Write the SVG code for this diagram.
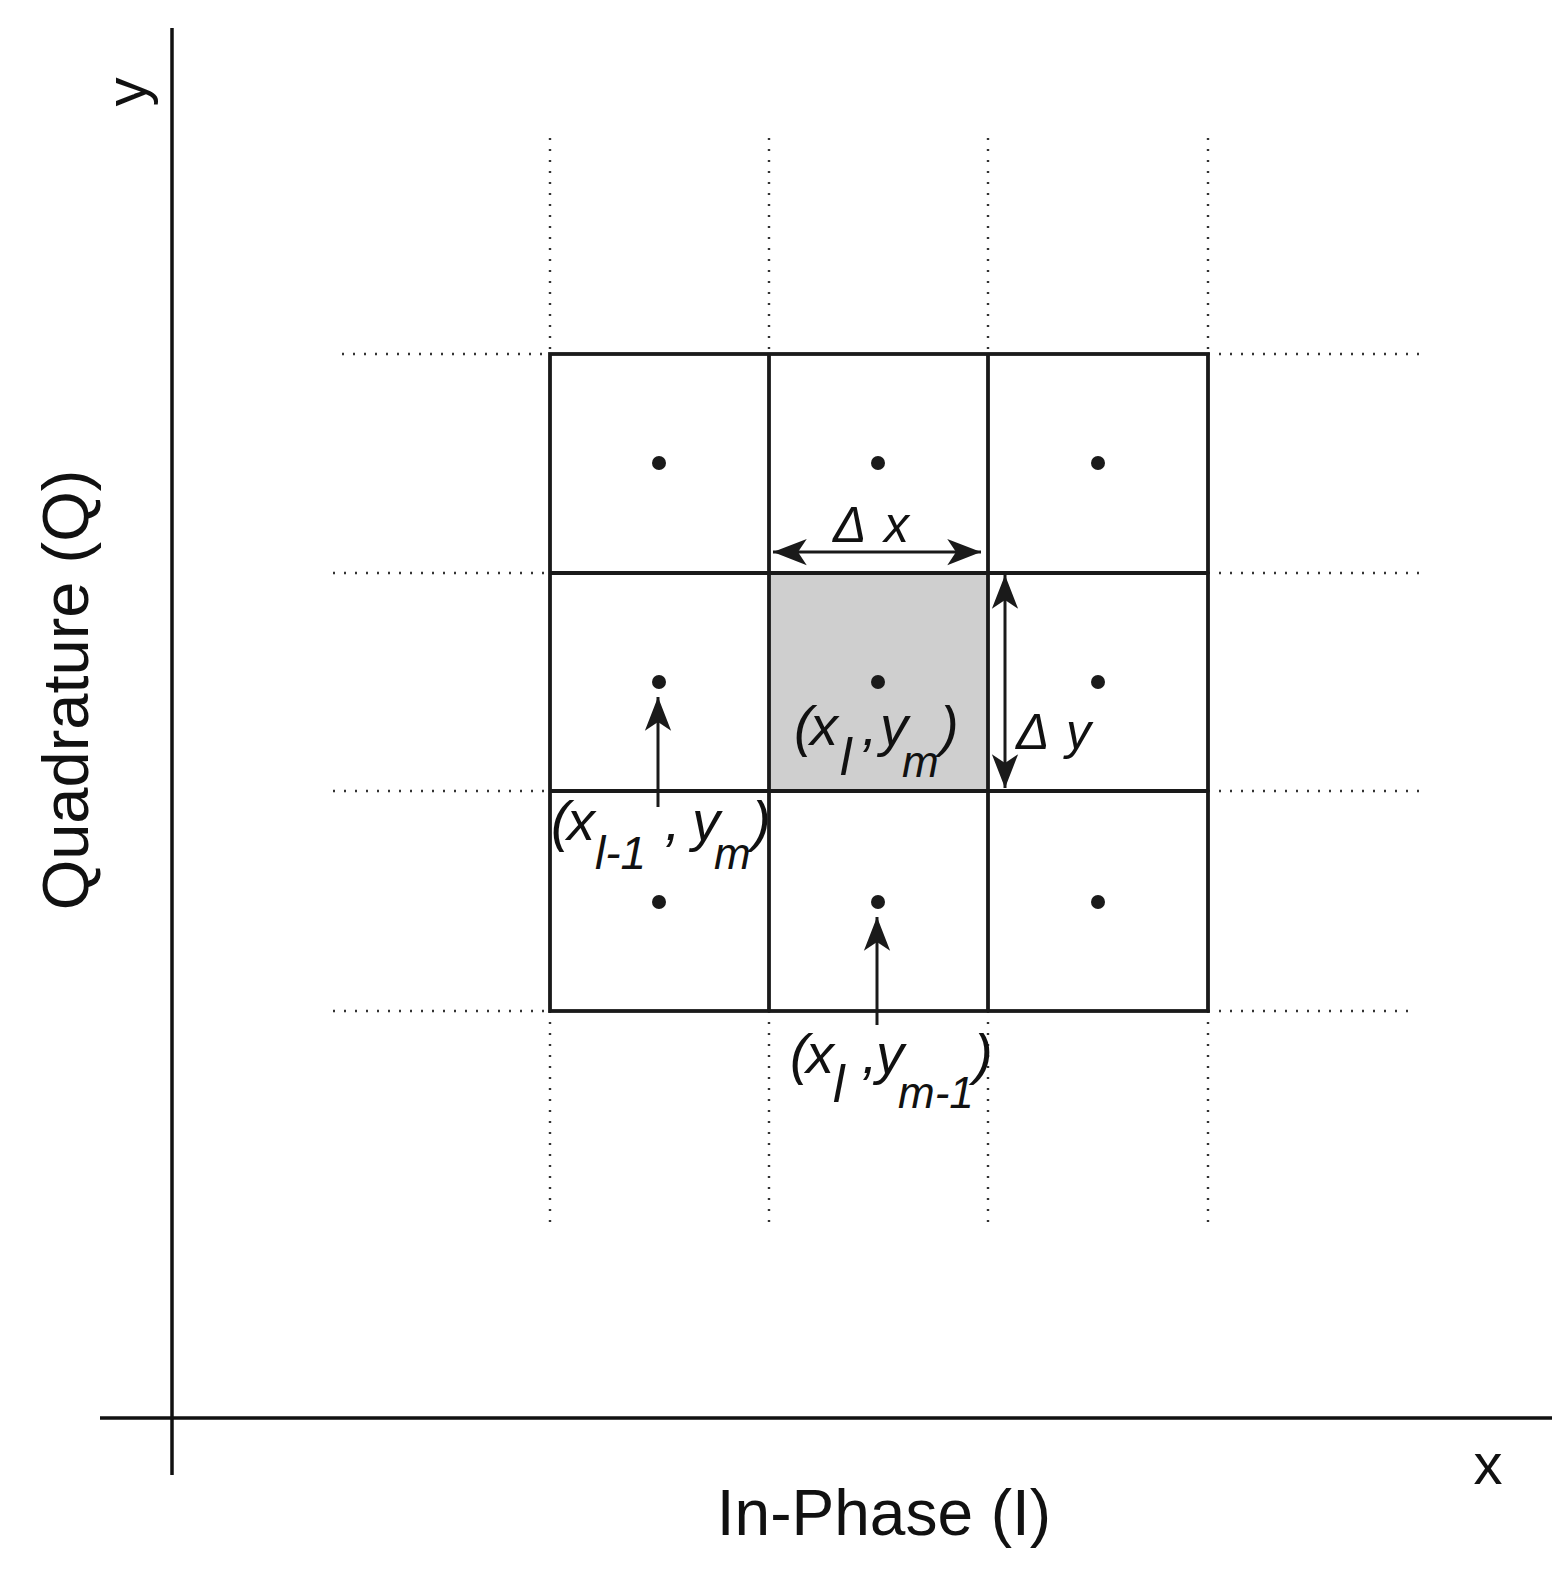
<svg xmlns="http://www.w3.org/2000/svg" width="1564" height="1575" viewBox="0 0 1564 1575">
<style>
.axis{stroke:#111;stroke-width:3.5;fill:none}
.grid{stroke:#1a1a1a;stroke-width:3.8;fill:none}
.dot{stroke:#333;stroke-width:2.4;stroke-dasharray:2 9;fill:none}
.arr{stroke:#1a1a1a;stroke-width:3;fill:none}
.pt{fill:#1a1a1a}
.lab{font-family:"Liberation Sans",Arial,sans-serif;fill:#111}
.m{font-family:"Liberation Sans",Arial,sans-serif;font-style:italic;fill:#111}
</style>
<defs>
<marker id="ah" markerUnits="userSpaceOnUse" markerWidth="40" markerHeight="30" viewBox="-30 -12 32 24" refX="0" refY="0" orient="auto-start-reverse">
<path d="M0,0 L-27,-10.5 L-20,0 L-27,10.5 Z" fill="#1a1a1a"/>
</marker>
</defs>
<rect width="1564" height="1575" fill="#fff"/>
<g id="axes">
<line class="axis" x1="172" y1="28" x2="172" y2="1475"/>
<line class="axis" x1="100" y1="1418" x2="1552" y2="1418"/>
</g>
<g id="dotted">
<line class="dot" x1="550" y1="138" x2="550" y2="354"/>
<line class="dot" x1="769" y1="138" x2="769" y2="354"/>
<line class="dot" x1="988" y1="138" x2="988" y2="354"/>
<line class="dot" x1="1208" y1="138" x2="1208" y2="354"/>
<line class="dot" x1="550" y1="1011" x2="550" y2="1226"/>
<line class="dot" x1="769" y1="1011" x2="769" y2="1226"/>
<line class="dot" x1="988" y1="1011" x2="988" y2="1226"/>
<line class="dot" x1="1208" y1="1011" x2="1208" y2="1226"/>
<line class="dot" x1="342" y1="354" x2="550" y2="354"/>
<line class="dot" x1="333" y1="573" x2="550" y2="573"/>
<line class="dot" x1="333" y1="791" x2="550" y2="791"/>
<line class="dot" x1="333" y1="1011" x2="550" y2="1011"/>
<line class="dot" x1="1208" y1="354" x2="1422" y2="354"/>
<line class="dot" x1="1208" y1="573" x2="1422" y2="573"/>
<line class="dot" x1="1208" y1="791" x2="1422" y2="791"/>
<line class="dot" x1="1208" y1="1011" x2="1416" y2="1011"/>
</g>
<g id="cell-lm">
<rect x="769" y="573" width="219" height="218" fill="#cfcfcf"/>
</g>
<g id="grid">
<rect class="grid" x="550" y="354" width="658" height="657"/>
<line class="grid" x1="769" y1="354" x2="769" y2="1011"/>
<line class="grid" x1="988" y1="354" x2="988" y2="1011"/>
<line class="grid" x1="550" y1="573" x2="1208" y2="573"/>
<line class="grid" x1="550" y1="791" x2="1208" y2="791"/>
</g>
<g id="points">
<circle class="pt" cx="659" cy="463" r="7"/>
<circle class="pt" cx="878" cy="463" r="7"/>
<circle class="pt" cx="1098" cy="463" r="7"/>
<circle class="pt" cx="659" cy="682" r="7"/>
<circle class="pt" cx="878" cy="682" r="7"/>
<circle class="pt" cx="1098" cy="682" r="7"/>
<circle class="pt" cx="659" cy="902" r="7"/>
<circle class="pt" cx="878" cy="902" r="7"/>
<circle class="pt" cx="1098" cy="902" r="7"/>
</g>
<g id="connectors">
<line class="arr" x1="773" y1="552" x2="981" y2="552" marker-start="url(#ah)" marker-end="url(#ah)"/>
<line class="arr" x1="1005" y1="575" x2="1005" y2="788" marker-start="url(#ah)" marker-end="url(#ah)"/>
<line class="arr" x1="658" y1="807" x2="658" y2="697" marker-end="url(#ah)"/>
<line class="arr" x1="877" y1="1025" x2="877" y2="917" marker-end="url(#ah)"/>
</g>
<g id="labels">
<text class="lab" font-size="58" transform="translate(146,92) rotate(-90)" text-anchor="middle">y</text>
<text class="lab" font-size="65" transform="translate(88,690) rotate(-90)" text-anchor="middle">Quadrature (Q)</text>
<text class="lab" font-size="64" x="884" y="1535" text-anchor="middle">In-Phase (I)</text>
<text class="lab" font-size="58" x="1488" y="1484" text-anchor="middle">x</text>
<text class="m" font-size="50"><tspan x="833" y="542">Δ</tspan><tspan x="884" y="542">x</tspan></text>
<text class="m" font-size="50"><tspan x="1016" y="749">Δ</tspan><tspan x="1066" y="749">y</tspan></text>
<text class="m" font-size="56"><tspan x="794" y="745">(</tspan><tspan x="810" y="745">x</tspan><tspan x="840" y="775" font-size="52">l</tspan><tspan x="862" y="745">,</tspan><tspan x="880" y="745">y</tspan><tspan x="902" y="777" font-size="44">m</tspan><tspan x="940" y="745">)</tspan></text>
<text class="m" font-size="56"><tspan x="551" y="840">(</tspan><tspan x="567" y="840">x</tspan><tspan x="595" y="869" font-size="46">l-1</tspan><tspan x="665" y="840">,</tspan><tspan x="692" y="840">y</tspan><tspan x="714" y="869" font-size="44">m</tspan><tspan x="752" y="840">)</tspan></text>
<text class="m" font-size="56"><tspan x="790" y="1073">(</tspan><tspan x="806" y="1073">x</tspan><tspan x="833" y="1102" font-size="52">l</tspan><tspan x="862" y="1073">,</tspan><tspan x="876" y="1073">y</tspan><tspan x="898" y="1108" font-size="44">m-1</tspan><tspan x="974" y="1073">)</tspan></text>
</g>
</svg>
